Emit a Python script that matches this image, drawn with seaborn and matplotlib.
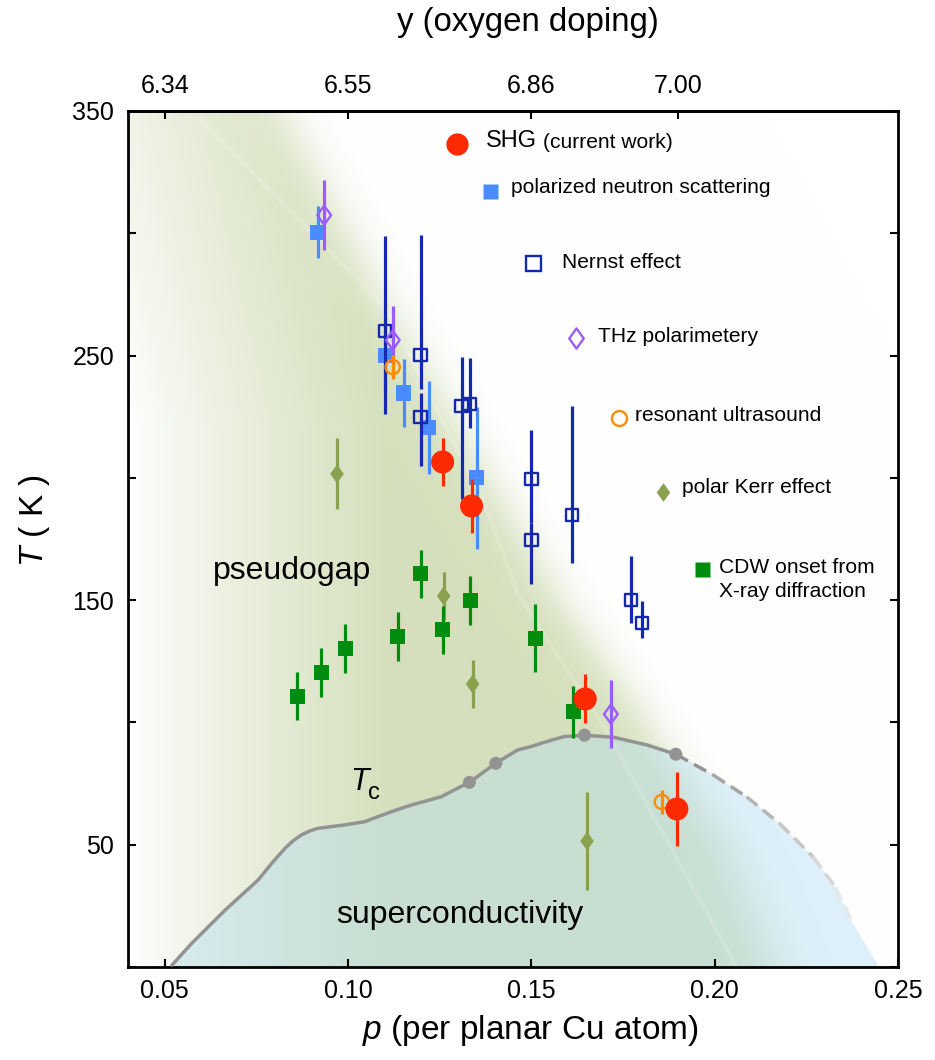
import numpy as np
import matplotlib
matplotlib.use("Agg")
import matplotlib.pyplot as plt
from matplotlib.path import Path
from matplotlib import font_manager
import seaborn as sns

sns.set_theme(style="ticks")
plt.rcParams['font.family'] = ['Liberation Sans', 'DejaVu Sans']
plt.rcParams['mathtext.fontset'] = 'custom'
plt.rcParams['mathtext.rm'] = 'Liberation Sans'
plt.rcParams['mathtext.it'] = 'Liberation Sans:italic'
for k in ['text.color', 'axes.labelcolor', 'xtick.color', 'ytick.color', 'axes.edgecolor']:
    plt.rcParams[k] = 'black'

avail = {f.name for f in font_manager.fontManager.ttflist}
NARROW = 'Liberation Sans Narrow' if 'Liberation Sans Narrow' in avail else 'Liberation Sans'
NS = 1.0 if NARROW == 'Liberation Sans Narrow' else 0.82

# ---------------- data ----------------
shg_p = [0.1258, 0.1337, 0.1647, 0.1897]
shg_T = [206.5, 188.5, 109.6, 64.6]
shg_err = [10, 11, 10, 15]

pns_p = [0.0918, 0.1101, 0.1152, 0.1220, 0.1351]
pns_T = [300.5, 250.2, 234.7, 220.4, 200.0]
pns_err = [10.5, 15, 14, 19, 29]

nernst_p = [0.1101, 0.1198, 0.1198, 0.1310, 0.1332, 0.1500, 0.1500, 0.1611, 0.1772, 0.1802]
nernst_T = [260.0, 250.2, 224.9, 229.4, 230.2, 199.5, 174.6, 184.8, 150.0, 140.6]
nernst_lo = [34, 14, 20, 38, 10, 18, 18, 19.6, 9.4, 6]
nernst_hi = [39, 49, 10, 20, 19, 20, 7, 44.6, 18, 9]

thz_p = [0.0935, 0.1122, 0.1717]
thz_T = [307.4, 256.3, 103.4]
thz_err = [14.4, 14, 14]

rus_p = [0.1122, 0.1856]
rus_T = [245.3, 67.5]
rus_err = [5, 5]

kerr_p = [0.0970, 0.1261, 0.1340, 0.1652]
kerr_T = [201.6, 151.7, 115.7, 51.5]
kerr_err = [14.5, 10, 10, 20]

cdw_p = [0.0861, 0.0927, 0.0992, 0.1136, 0.1198, 0.1258, 0.1334, 0.1511, 0.1614]
cdw_T = [110.8, 120.6, 130.4, 135.3, 160.7, 137.8, 150.0, 134.5, 104.3]
cdw_err = [10, 10, 10, 10, 10, 10, 10, 14, 10.5]

tc_p = [0.0520, 0.0574, 0.0665, 0.0755, 0.0792, 0.0828, 0.0850, 0.0873, 0.0895, 0.0918,
        0.0991, 0.1045, 0.1118, 0.1172, 0.1254, 0.1299, 0.1331, 0.1403, 0.1462, 0.1498,
        0.1545, 0.1589, 0.1645, 0.1725, 0.1815, 0.1894]
tc_T = [0.8, 9.7, 23.3, 35.6, 42.4, 48.5, 51.6, 54.0, 55.6, 56.7,
        58.1, 59.4, 63.5, 66.2, 69.6, 73.1, 75.5, 83.3, 88.7, 90.1,
        92.3, 94.2, 94.8, 93.9, 90.8, 87.0]
tc_dash_p = [0.1894, 0.1996, 0.2087, 0.2177, 0.2268, 0.2330, 0.2377]
tc_dash_T = [87.0, 78.5, 69.6, 58.7, 45.1, 32.5, 17.9]
tc_end_p = [0.2449]
tc_end_T = [0.0]
tc_dot_p = [0.1331, 0.1403, 0.1645, 0.1894]
tc_dot_T = [75.5, 83.3, 94.8, 87.0]

tstar_p = [0.0601, 0.1100, 0.1372, 0.1462, 0.1707, 0.2060]
tstar_T = [346, 270, 190, 153, 96, 0]

top_ticks = [0.05, 0.10, 0.15, 0.19]
top_labels = ['6.34', '6.55', '6.86', '7.00']
x_ticks = [0.05, 0.10, 0.15, 0.20, 0.25]
x_labels = ['0.05', '0.10', '0.15', '0.20', '0.25']
y_ticks = [0, 50, 100, 150, 200, 250, 300, 350]
y_labels = ['', '50', '', '150', '', '250', '', '350']

# ---------------- style ----------------
C_SHG = '#ff2a00'
C_PNS = '#4a8cff'
C_NER = '#1428b0'
C_THZ = '#9b5cff'
C_RUS = '#ff8c00'
C_KERR = '#8aa24e'
C_CDW = '#008c0c'
C_TC = '#939393'

DIAM = Path([(0, 1), (0.72, 0), (0, -1), (-0.72, 0), (0, 1)],
            [Path.MOVETO, Path.LINETO, Path.LINETO, Path.LINETO, Path.CLOSEPOLY])

fig = plt.figure(figsize=(9.35, 10.6), dpi=100)
ax = fig.add_axes([128/935, 1-967/1060, 770/935, 856/1060])
XL, YL = (0.04, 0.25), (0, 350)

# ---------------- background shading ----------------
pg = np.linspace(XL[0], XL[1], 900)
Tg = np.linspace(YL[0], YL[1], 900)
P, TT = np.meshgrid(pg, Tg)
pstar = np.interp(TT, [0, 49, 109, 150, 272, 350], [0.216, 0.203, 0.1775, 0.158, 0.1095, 0.082])
edge = 1.0 / (1.0 + np.exp((P - pstar) / 0.0038))
p0 = 0.041 - np.clip((TT - 220) / 130, 0, 1) * 0.02
ramp = np.clip((P - p0) / 0.07, 0, 1) ** 0.8
g = (ramp * edge)[..., None]
full_p = tc_p + tc_dash_p[1:] + tc_end_p
full_T = tc_T + tc_dash_T[1:] + tc_end_T
Tc_at = np.interp(P, full_p, full_T, left=0, right=0)
inside = (TT < Tc_at)[..., None]
G = np.array([0.838, 0.878, 0.742])
B = np.array([0.868, 0.938, 0.975])
TL = np.array([0.782, 0.872, 0.822])
img = np.where(inside, (1 - g) * B + g * TL, (1 - g) * 1.0 + g * G)
ax.imshow(img, extent=[XL[0], XL[1], YL[0], YL[1]], origin='lower', aspect='auto',
          zorder=0, interpolation='bilinear')
ax.plot(tstar_p, tstar_T, color='white', alpha=0.16, lw=3, zorder=1)

# ---------------- Tc line ----------------
sns.lineplot(x=tc_p, y=tc_T, sort=False, estimator=None, color=C_TC, lw=2.5, ax=ax, zorder=3)
nd = len(tc_dash_p) - 1
for i in range(nd):
    shade = 0.58 + 0.33 * (i / max(nd - 1, 1))
    ax.plot(tc_dash_p[i:i+2], tc_dash_T[i:i+2], color=str(shade), lw=2.5,
            dashes=(4, 2), zorder=3)
sns.scatterplot(x=tc_dot_p, y=tc_dot_T, s=88, color=C_TC, edgecolor='none', linewidth=0, ax=ax, zorder=4)

# ---------------- data series ----------------
EW = 2.3
ax.errorbar(kerr_p, kerr_T, yerr=kerr_err, fmt='none', ecolor=C_KERR, elinewidth=EW, zorder=5)
sns.scatterplot(x=kerr_p, y=kerr_T, marker=DIAM, s=185, color=C_KERR, edgecolor='none', linewidth=0, ax=ax, zorder=5)

ax.errorbar(cdw_p, cdw_T, yerr=cdw_err, fmt='none', ecolor=C_CDW, elinewidth=EW, zorder=5)
sns.scatterplot(x=cdw_p, y=cdw_T, marker='s', s=117, color=C_CDW, edgecolor='none', linewidth=0, ax=ax, zorder=5)

ax.errorbar(pns_p, pns_T, yerr=pns_err, fmt='none', ecolor=C_PNS, elinewidth=EW, zorder=6)
sns.scatterplot(x=pns_p, y=pns_T, marker='s', s=117, color=C_PNS, edgecolor='none', linewidth=0, ax=ax, zorder=6)

ax.errorbar(nernst_p, nernst_T, yerr=[nernst_lo, nernst_hi], fmt='none', ecolor=C_NER, elinewidth=EW, zorder=7)
sns.scatterplot(x=nernst_p, y=nernst_T, marker='s', s=81, color=C_NER, facecolor='none', edgecolor=C_NER,
                linewidth=1.7, ax=ax, zorder=7)

ax.errorbar(thz_p, thz_T, yerr=thz_err, fmt='none', ecolor=C_THZ, elinewidth=EW, zorder=8)
sns.scatterplot(x=thz_p, y=thz_T, marker=DIAM, s=190, color=C_THZ, facecolor='none', edgecolor=C_THZ,
                linewidth=1.7, ax=ax, zorder=8)

ax.errorbar(rus_p, rus_T, yerr=rus_err, fmt='none', ecolor=C_RUS, elinewidth=EW, zorder=9)
sns.scatterplot(x=rus_p, y=rus_T, marker='o', s=105, color=C_RUS, facecolor='none', edgecolor=C_RUS,
                linewidth=1.7, ax=ax, zorder=9)

ax.errorbar(shg_p, shg_T, yerr=shg_err, fmt='none', ecolor=C_SHG, elinewidth=EW, zorder=10)
sns.scatterplot(x=shg_p, y=shg_T, marker='o', s=275, color=C_SHG, edgecolor='none', linewidth=0, ax=ax, zorder=10)

# ---------------- region labels ----------------
ax.text(0.0633, 158.6, 'pseudogap', fontsize=23, ha='left', va='baseline', zorder=2)
ax.text(0.0967, 18.0, 'superconductivity', fontsize=23, ha='left', va='baseline', zorder=2)
ax.text(0.1006, 72.4, 'T', fontsize=22, style='italic', ha='left', va='baseline', zorder=2)
ax.text(0.1055, 68.6, 'c', fontsize=17, ha='left', va='baseline', zorder=2)

# ---------------- in-plot legend ----------------
T_ = ax.transAxes
LFS = 18.5 * NS
ax.plot(0.4273, 0.9614, 'o', ms=16, color=C_SHG, mec='none', transform=T_, zorder=11)
t1 = ax.text(0.4649, 0.9583, 'SHG', fontsize=17, ha='left', va='baseline', transform=T_)
ax.annotate('(current work)', xy=(1, 0), xycoords=t1, xytext=(4, 0), textcoords='offset points',
            fontsize=LFS, family=NARROW, ha='left', va='bottom')

ax.plot(0.4701, 0.9065, 's', ms=10.8, color=C_PNS, mec='none', transform=T_, zorder=11)
ax.text(0.4974, 0.9042, 'polarized neutron scattering', fontsize=LFS, family=NARROW,
        ha='left', va='baseline', transform=T_)

ax.plot(0.5260, 0.8224, 's', ms=10.8, mfc='none', mec=C_NER, mew=1.7, transform=T_, zorder=11)
ax.text(0.5636, 0.8166, 'Nernst effect', fontsize=LFS, family=NARROW,
        ha='left', va='baseline', transform=T_)

ax.plot(0.5818, 0.7348, marker=DIAM, ms=14.5, mfc='none', mec=C_THZ, mew=1.7, transform=T_, zorder=11)
ax.text(0.6104, 0.7301, 'THz polarimetery', fontsize=LFS, family=NARROW,
        ha='left', va='baseline', transform=T_)

ax.plot(0.6377, 0.6414, 'o', ms=10.8, mfc='none', mec=C_RUS, mew=1.7, transform=T_, zorder=11)
ax.text(0.6584, 0.6379, 'resonant ultrasound', fontsize=LFS, family=NARROW,
        ha='left', va='baseline', transform=T_)

ax.plot(0.6948, 0.5549, marker=DIAM, ms=13.5, color=C_KERR, mec='none', transform=T_, zorder=11)
ax.text(0.7195, 0.5537, 'polar Kerr effect', fontsize=LFS, family=NARROW,
        ha='left', va='baseline', transform=T_)

ax.plot(0.7455, 0.4650, 's', ms=10.8, color=C_CDW, mec='none', transform=T_, zorder=11)
ax.text(0.7675, 0.4603, 'CDW onset from', fontsize=LFS, family=NARROW,
        ha='left', va='baseline', transform=T_)
ax.text(0.7675, 0.4322, 'X-ray diffraction', fontsize=LFS, family=NARROW,
        ha='left', va='baseline', transform=T_)

# ---------------- axes ----------------
ax.set_xlim(*XL)
ax.set_ylim(*YL)
ax.set_xticks(x_ticks, labels=x_labels)
ax.set_yticks(y_ticks, labels=y_labels)
ax.tick_params(axis='both', direction='in', length=6, width=1.5, labelsize=18,
               right=True, top=False)
ax.tick_params(axis='x', pad=9)
ax.tick_params(axis='y', pad=10)
for s in ax.spines.values():
    s.set_linewidth(2)
    s.set_color('black')
    s.set_visible(True)

sec = ax.secondary_xaxis('top')
sec.set_xticks(top_ticks, labels=top_labels)
sec.tick_params(direction='in', length=6, width=1.5, pad=9)
sec.spines['top'].set_linewidth(2)
for lbl in sec.get_xticklabels():
    lbl.set_fontfamily(NARROW)
    lbl.set_fontsize(22 * NS)

ax.set_xlabel(r'$p$ (per planar Cu atom)', fontsize=24)
ax.xaxis.set_label_coords(0.522, -0.054)
ax.set_ylabel(r'$T$ ( K )', fontsize=24)
ax.yaxis.set_label_coords(-0.0987, 0.522)

fig.text(528/935, 1 - 22/1060, 'y (oxygen doping)', fontsize=29 * NS, family=NARROW,
         ha='center', va='center')

fig.savefig('out.png', dpi=100)
